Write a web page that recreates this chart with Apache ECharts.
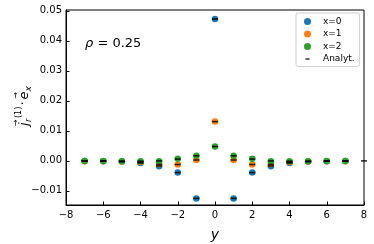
<!DOCTYPE html>
<html>
<head>
<meta charset="utf-8">
<script src="https://cdn.jsdelivr.net/npm/echarts@6/dist/echarts.min.js"></script>
<style>html,body{margin:0;padding:0;background:#fff}#c{width:374px;height:244px}</style>
</head>
<body>
<div id="c"></div>
<script>
// positions along y
const yPositions = [-7, -6, -5, -4, -3, -2, -1, 0, 1, 2, 3, 4, 5, 6, 7];
// numerical values
const valsX0 = [0.0000, -0.0001, -0.0002, -0.0007, -0.0018, -0.0039, -0.0125, 0.0473, -0.0125, -0.0039, -0.0018, -0.0007, -0.0002, -0.0001, 0.0000];
const valsX1 = [-0.0001, -0.0001, -0.0002, -0.0004, -0.0010, -0.0012, 0.0003, 0.0131, 0.0003, -0.0012, -0.0010, -0.0004, -0.0002, -0.0001, -0.0001];
const valsX2 = [0.0000, 0.0000, -0.0001, -0.0001, -0.0001, 0.0007, 0.0017, 0.0048, 0.0017, 0.0007, -0.0001, -0.0001, -0.0001, 0.0000, 0.0000];
// analytic values
const analytX0 = [0.0000, -0.0001, -0.0002, -0.0007, -0.0017, -0.0039, -0.0125, 0.0473, -0.0125, -0.0039, -0.0017, -0.0007, -0.0002, -0.0001, 0.0000];
const analytX1 = [-0.0001, -0.0001, -0.0002, -0.0004, -0.0012, -0.0012, 0.0003, 0.0131, 0.0003, -0.0012, -0.0012, -0.0004, -0.0002, -0.0001, -0.0001];
const analytX2 = [0.0000, 0.0000, -0.0001, -0.0001, 0.0000, 0.0006, 0.0017, 0.0048, 0.0017, 0.0006, 0.0000, -0.0001, -0.0001, 0.0000, 0.0000];
const analytExtraY = [8];
const analytExtraV = [0.0000];
// tick labels
const xTicks = [-8, -6, -4, -2, 0, 2, 4, 6, 8];
const yTicks = [-0.01, 0.00, 0.01, 0.02, 0.03, 0.04, 0.05];

const colors = ['#1f77b4', '#ff7f0e', '#2ca02c'];
const FONT = 'DejaVu Sans';
const pair = (xs, vs) => xs.map((x, i) => [x, vs[i]]);
const minus = s => String(s).replace('-', '\u2212');

const analytData = [].concat(
  pair(yPositions, analytX0), pair(yPositions, analytX1), pair(yPositions, analytX2),
  pair(analytExtraY, analytExtraV));

const chart = echarts.init(document.getElementById('c'), null, {renderer: 'canvas'});
chart.setOption({
  animation: false,
  backgroundColor: '#fff',
  grid: {left: 66, right: 10, top: 10, bottom: 39, show: true, borderColor: '#000', borderWidth: 1,
    backgroundColor: 'transparent', containLabel: false, outerBoundsMode: 'none'},
  xAxis: {
    type: 'value', min: -8, max: 8, interval: 2,
    axisLine: {show: true, onZero: false, lineStyle: {color: '#000', width: 1}},
    axisTick: {show: true, inside: true, length: 3.5, lineStyle: {color: '#000'}},
    axisLabel: {color: '#000', fontSize: 10, fontFamily: FONT, margin: 5, formatter: v => minus(v)},
    splitLine: {show: false},
    name: 'y', nameLocation: 'middle', nameGap: 23,
    nameTextStyle: {color: '#000', fontSize: 14, fontStyle: 'italic', fontFamily: FONT}
  },
  yAxis: {
    type: 'value', min: -0.0147, max: 0.0503,
    axisLine: {show: true, onZero: false, lineStyle: {color: '#000', width: 1}},
    axisTick: {show: true, inside: true, length: 3.5, lineStyle: {color: '#000'}, customValues: yTicks},
    axisLabel: {color: '#000', fontSize: 10, fontFamily: FONT, margin: 4, customValues: yTicks,
      formatter: v => minus(v.toFixed(2))},
    splitLine: {show: false}
  },
  legend: {
    orient: 'vertical', left: 296, top: 13,
    padding: [4, 5, 3, 8], itemGap: 3.5, itemWidth: 7, itemHeight: 7,
    borderColor: '#d0d0d0', borderWidth: 1, borderRadius: 2, backgroundColor: '#fff',
    textStyle: {color: '#000', fontSize: 9, fontFamily: FONT, lineHeight: 9, padding: [0, 0, 0, 7]},
    data: [
      {name: 'x=0', icon: 'circle'},
      {name: 'x=1', icon: 'circle'},
      {name: 'x=2', icon: 'circle'},
      {name: 'Analyt.', icon: 'path://M0,0L0.01,0L0.01,0.01Z M1,4H7V6H1Z M7.99,9.99L8,9.99L8,10Z'}
    ]
  },
  graphic: [
    {
      type: 'group', x: 25, y: 105, rotation: Math.PI / 2,
      children: [
        {type: 'text', x: -21, y: 0, style: {text: 'j', font: 'italic 13px "DejaVu Sans"', fill: '#000', verticalAlign: 'middle'}},
        {type: 'text', x: -21, y: -9, style: {text: '\u2192', font: '8px "DejaVu Sans"', fill: '#000', verticalAlign: 'middle'}},
        {type: 'text', x: -17, y: 4, style: {text: 'r', font: 'italic 8px "DejaVu Sans"', fill: '#000', verticalAlign: 'middle'}},
        {type: 'text', x: -13, y: -6.5, style: {text: '(1)', font: '8px "DejaVu Sans"', fill: '#000', verticalAlign: 'middle'}},
        {type: 'text', x: -0.5, y: -1, style: {text: '\u00b7', font: '13px "DejaVu Sans"', fill: '#000', verticalAlign: 'middle'}},
        {type: 'text', x: 5.5, y: 0, style: {text: 'e', font: 'italic 13px "DejaVu Sans"', fill: '#000', verticalAlign: 'middle'}},
        {type: 'text', x: 6.5, y: -9, style: {text: '\u2192', font: '8px "DejaVu Sans"', fill: '#000', verticalAlign: 'middle'}},
        {type: 'text', x: 13.5, y: 4, style: {text: 'x', font: 'italic 9px "DejaVu Sans"', fill: '#000', verticalAlign: 'middle'}}
      ]
    },
    {
      type: 'text', left: 85, top: 37,
      style: {
        text: '{i|\u03c1} = 0.25',
        font: '13px "DejaVu Sans"', fill: '#000',
        rich: {i: {fontStyle: 'italic', fontSize: 13, fontFamily: FONT}}
      }
    }
  ],
  series: [
    {name: 'x=0', type: 'scatter', data: pair(yPositions, valsX0), symbolSize: 6.5, itemStyle: {color: colors[0], opacity: 1}, z: 2},
    {name: 'x=1', type: 'scatter', data: pair(yPositions, valsX1), symbolSize: 6.5, itemStyle: {color: colors[1], opacity: 1}, z: 3},
    {name: 'x=2', type: 'scatter', data: pair(yPositions, valsX2), symbolSize: 6.5, itemStyle: {color: colors[2], opacity: 1}, z: 4},
    {name: 'Analyt.', type: 'scatter', data: analytData, symbol: 'rect', symbolSize: [6, 1.6], clip: false, itemStyle: {color: '#000'}, z: 5}
  ]
});
</script>
</body>
</html>
